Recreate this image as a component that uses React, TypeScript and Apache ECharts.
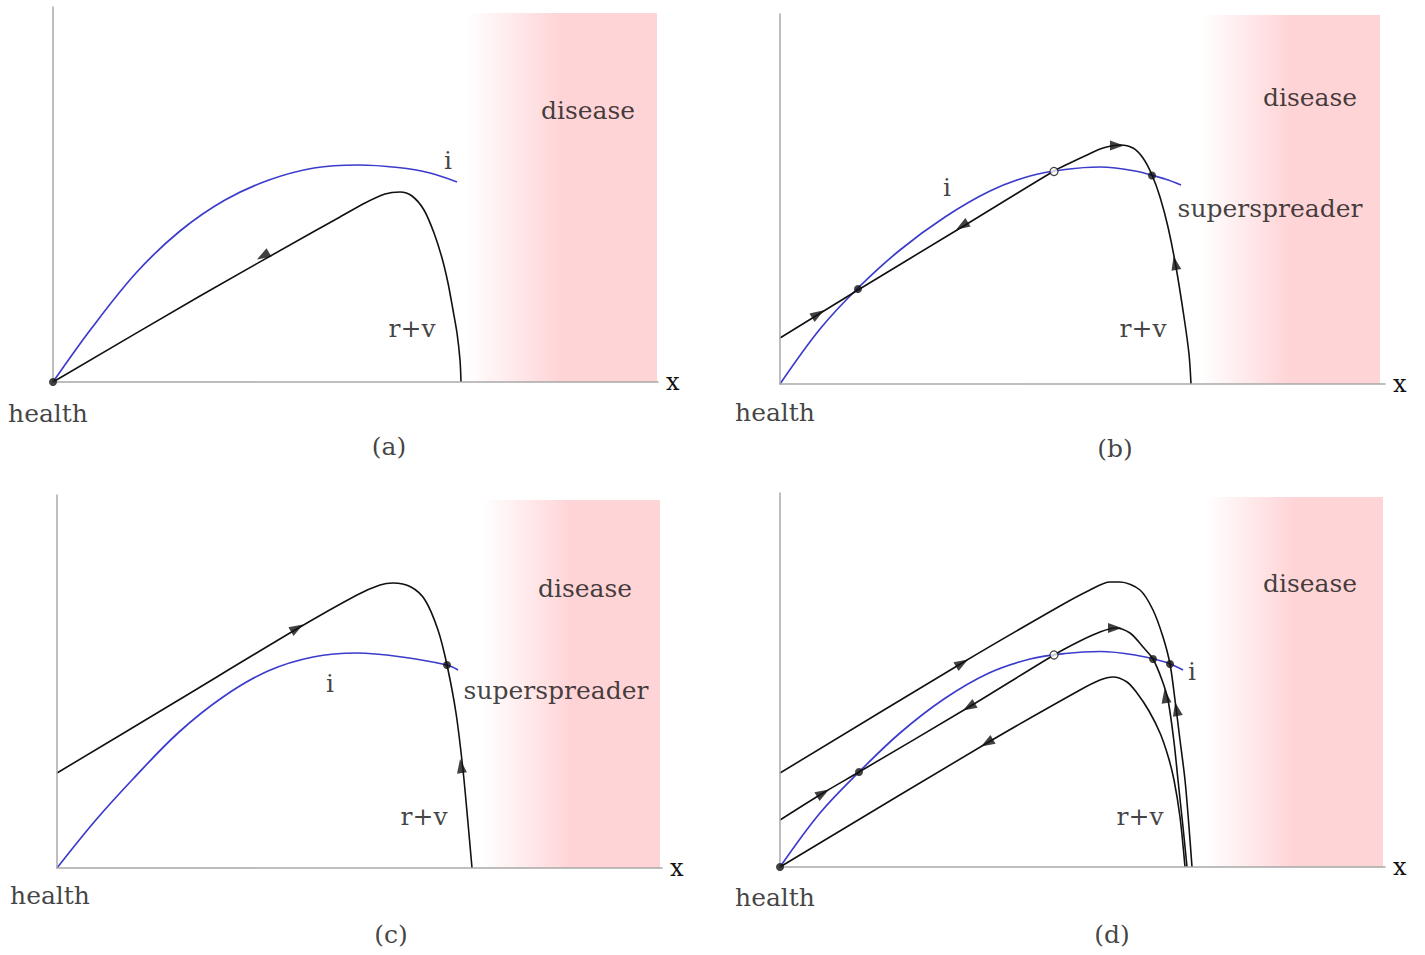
import React, { useEffect, useRef } from "react";
import * as echarts from "echarts";

type P = [number, number];
type Arrow = [number, number, number, number]; // x, y, dx, dy
type Lbl = [number, number, string];

// ---------- panel (a) ----------
const iA: P[] = [[0, 0], [7.6, 10.6], [16.6, 21.8], [25.4, 30.2], [34.4, 36.4], [43.2, 40.4], [52.2, 42.8], [61, 43.4], [69, 42.9], [75.4, 41.8], [80.8, 40]];
const rvA: P[][] = [
  [[0, 0], [29.4, 17.2], [52, 30], [57.4, 33], [62.4, 35.8], [66.4, 37.6], [69.4, 38], [71.8, 37.2], [74.2, 34.4], [76.2, 29.8], [77.8, 24.8], [79, 19.8], [80, 14.4], [80.8, 9.8], [81.4, 4.4], [81.6, 0]],
];
const arrowsA: Arrow[] = [[42, 25.2, -1, -0.575]];
const dotsA: P[] = [[0, 0]];
const openA: P[] = [];
const labelsA: Lbl[] = [[107, 54.4, "disease"], [79, 44.4, "i"], [71.8, 10.8, "r+v"], [-1, -6.2, "health"], [67.2, -12.8, "(a)"]];
const pinkA: [number, number, number] = [82.4, 120.8, 73.8];

// ---------- panel (b) ----------
const iB: P[] = [[0, 0], [8, 11], [15.6, 19.2], [24, 26.8], [33, 33.4], [42, 38.6], [50, 41.6], [57, 42.9], [64, 43.4], [71, 42.6], [77, 41], [80.2, 39.8]];
const rvB: P[][] = [
  [[0, 9.2], [15.6, 18.8], [36.4, 31.4], [54.8, 42.6], [58, 44.2], [61.4, 45.8], [64.6, 47.2], [68, 47.8], [70.6, 47.2], [72.6, 45.2], [74.4, 41.8], [76, 37.4], [77.6, 31.4], [79.2, 23.4], [80.8, 13.4], [81.8, 6], [82.2, 0]],
];
const arrowsB: Arrow[] = [[7.6, 14, 1, 0.61], [36.4, 31.6, -1, -0.61], [67.4, 47.7, 1, 0], [79, 24.2, -0.2, 1]];
const dotsB: P[] = [[15.6, 19], [74.4, 41.7]];
const openB: P[] = [[54.8, 42.5]];
const labelsB: Lbl[] = [[106, 57.4, "disease"], [33.4, 39.4, "i"], [98, 35.2, "superspreader"], [72.6, 11.2, "r+v"], [-1, -5.6, "health"], [67, -12.8, "(b)"]];
const pinkB: [number, number, number] = [84, 120, 73.8];

// ---------- panel (c) ----------
const iC: P[] = [[0, 0], [7.6, 9.4], [15.2, 17.8], [24.2, 27], [33.2, 34.2], [42.2, 39.4], [51.2, 42.2], [60, 43], [69, 42.2], [78, 40.6], [80.2, 39.6]];
const rvC: P[][] = [
  [[0, 19], [24, 33.4], [47.6, 47.6], [60, 54.6], [64.6, 56.6], [67.2, 57], [70.8, 56.2], [73.6, 53.6], [76.2, 47.6], [78, 40.6], [79.8, 31], [81.2, 19.6], [82.2, 9], [83, 0]],
];
const arrowsC: Arrow[] = [[48, 48, 1, 0.6], [80.8, 20.4, -0.14, 1]];
const dotsC: P[] = [[78, 40.6]];
const openC: P[] = [];
const labelsC: Lbl[] = [[105.6, 56, "disease"], [54.6, 37, "i"], [99.8, 35.6, "superspreader"], [73.4, 10.4, "r+v"], [-1.4, -5.4, "health"], [66.8, -13.2, "(c)"]];
const pinkC: [number, number, number] = [85, 120.6, 73.6];

// ---------- panel (d) ----------
const iD: P[] = [[0, 0], [8, 10.8], [15.8, 19], [24, 26.8], [32.8, 33.6], [41.8, 38.8], [50, 41.6], [57, 42.7], [64, 43.1], [71, 42.4], [77, 41], [80.6, 39.4]];
const rvD: P[][] = [
  [[0, 18.8], [36.4, 40.8], [56, 52.2], [62, 55.4], [66, 57], [68, 57], [72, 55.4], [74.6, 51.4], [76.6, 46], [78, 40.6], [79, 33.4], [80, 25.4], [81, 17.4], [81.8, 8], [82.4, 0]],
  [[0, 9.4], [8.6, 14.8], [15.8, 19], [37.8, 32], [54.8, 42.4], [60, 45.2], [64, 47], [67, 47.8], [70, 46.8], [72.6, 44], [74.6, 41.6], [76.4, 37.4], [77.6, 33.4], [78.8, 25], [79.6, 17.4], [80.6, 8], [81.4, 0]],
  [[0, 0], [41.4, 24.8], [60, 35.4], [64, 37.4], [66.6, 38], [69.4, 37], [71.4, 34.8], [73.8, 31.2], [76, 26.8], [77.6, 22.2], [78.8, 17.4], [80, 10], [81, 0]],
];
const arrowsD: Arrow[] = [[36.4, 40.8, 1, 0.6], [79.3, 31.6, -0.2, 1], [8.6, 14.8, 1, 0.6], [37.8, 32, -1, -0.6], [67, 47.8, 1, 0], [77.1, 34.2, -0.15, 1], [41.4, 24.8, -1, -0.6]];
const dotsD: P[] = [[0, 0], [15.8, 19], [74.6, 41.6], [78, 40.6]];
const openD: P[] = [[54.8, 42.4]];
const labelsD: Lbl[] = [[106, 56.8, "disease"], [82.4, 39.2, "i"], [72, 10.2, "r+v"], [-1, -6, "health"], [66.4, -13.4, "(d)"]];
const pinkD: [number, number, number] = [85, 120.6, 74];

const panels = [
  { i: iA, rv: rvA, arrows: arrowsA, dots: dotsA, open: openA, labels: labelsA, pink: pinkA, grid: { left: 53, top: 7, width: 605, height: 375 } },
  { i: iB, rv: rvB, arrows: arrowsB, dots: dotsB, open: openB, labels: labelsB, pink: pinkB, grid: { left: 780, top: 14, width: 605, height: 370 } },
  { i: iC, rv: rvC, arrows: arrowsC, dots: dotsC, open: openC, labels: labelsC, pink: pinkC, grid: { left: 57, top: 495, width: 605, height: 373 } },
  { i: iD, rv: rvD, arrows: arrowsD, dots: dotsD, open: openD, labels: labelsD, pink: pinkD, grid: { left: 780, top: 493, width: 605, height: 374 } },
];

const FONT = "DejaVu Serif";
const TEXT = "#111";
const BLUE = "#3b3bcc";
const BLACK = "#111";
const AXIS = "#a8a8a8";

export default function App() {
  const ref = useRef<HTMLDivElement>(null);
  useEffect(() => {
    if (!ref.current) return;
    const chart = echarts.init(ref.current, undefined, { renderer: "svg" });
    const grids: any[] = [];
    const xAxes: any[] = [];
    const yAxes: any[] = [];
    const series: any[] = [];
    panels.forEach((p, k) => {
      grids.push({ ...p.grid });
      xAxes.push({
        type: "value", gridIndex: k, min: 0, max: p.grid.width / 5, z: 5,
        axisLine: { show: true, lineStyle: { color: AXIS, width: 1.5 } },
        axisTick: { show: false }, axisLabel: { show: false }, splitLine: { show: false },
        name: "x", nameLocation: "end", nameGap: 8,
        nameTextStyle: { fontFamily: FONT, fontSize: 24, color: TEXT, verticalAlign: "middle" },
      });
      yAxes.push({
        type: "value", gridIndex: k, min: 0, max: p.grid.height / 5, z: 5,
        axisLine: { show: true, onZero: false, lineStyle: { color: AXIS, width: 1.5 } },
        axisTick: { show: false }, axisLabel: { show: false }, splitLine: { show: false },
      });
      // pink disease region
      series.push({
        type: "line", xAxisIndex: k, yAxisIndex: k, data: [], z: 1, silent: true,
        markArea: {
          silent: true,
          itemStyle: {
            color: new echarts.graphic.LinearGradient(0, 0, 1, 0, [
              { offset: 0, color: "rgba(255,214,216,0)" },
              { offset: 0.5, color: "#ffd4d7" },
              { offset: 1, color: "#ffd4d7" },
            ]),
          },
          data: [[{ xAxis: p.pink[0], yAxis: 0 }, { xAxis: p.pink[1], yAxis: p.pink[2] }]],
        },
      });
      series.push({
        type: "line", xAxisIndex: k, yAxisIndex: k, data: p.i, smooth: 0.35, showSymbol: false, z: 3,
        lineStyle: { color: BLUE, width: 1.7 },
      });
      p.rv.forEach((c) => {
        series.push({
          type: "line", xAxisIndex: k, yAxisIndex: k, data: c, smooth: 0.3, showSymbol: false, z: 3,
          lineStyle: { color: BLACK, width: 1.6 },
        });
      });
      series.push({
        type: "scatter", xAxisIndex: k, yAxisIndex: k, z: 4, symbol: "triangle", symbolSize: [10, 14],
        itemStyle: { color: BLACK },
        data: p.arrows.map((a) => ({ value: [a[0], a[1]], symbolRotate: (Math.atan2(a[3], a[2]) * 180) / Math.PI - 90 })),
      });
      series.push({
        type: "scatter", xAxisIndex: k, yAxisIndex: k, z: 5, symbol: "circle", symbolSize: 8,
        itemStyle: { color: BLACK }, data: p.dots, clip: false,
      });
      if (p.open.length) {
        series.push({
          type: "scatter", xAxisIndex: k, yAxisIndex: k, z: 5, symbol: "circle", symbolSize: 8,
          itemStyle: { color: "#fff", borderColor: BLACK, borderWidth: 1.2 }, data: p.open,
        });
      }
      series.push({
        type: "scatter", xAxisIndex: k, yAxisIndex: k, z: 6, symbolSize: 0, clip: false, silent: true,
        data: p.labels.map((l) => ({ value: [l[0], l[1]], name: l[2] })),
        label: {
          show: true, position: "inside", formatter: (q: any) => q.name,
          fontFamily: FONT, fontSize: 25, color: TEXT,
        },
      });
    });
    chart.setOption({
      animation: false,
      backgroundColor: "#fff",
      grid: grids,
      xAxis: xAxes,
      yAxis: yAxes,
      series,
    });
    return () => chart.dispose();
  }, []);
  return <div ref={ref} style={{ position: "fixed", left: 0, top: 0, width: 1425, height: 955 }} />;
}
